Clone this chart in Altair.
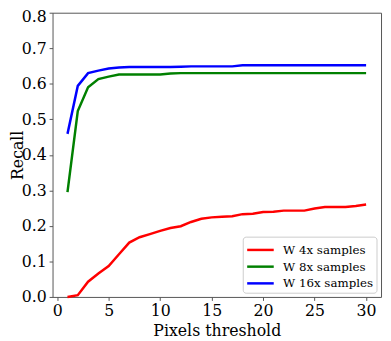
import altair as alt
import pandas as pd

thresholds = list(range(1, 31))
series_names = ["W 4x samples", "W 8x samples", "W 16x samples"]
series_colors = ["#ff0000", "#008000", "#0000ff"]

recall_4x = [0.000, 0.005, 0.043, 0.066, 0.087, 0.120, 0.153, 0.168, 0.177, 0.186,
             0.194, 0.199, 0.211, 0.220, 0.224, 0.226, 0.227, 0.233, 0.234, 0.239,
             0.240, 0.243, 0.243, 0.243, 0.249, 0.253, 0.253, 0.253, 0.256, 0.260]
recall_8x = [0.295, 0.523, 0.590, 0.613, 0.620, 0.626, 0.626, 0.626, 0.626, 0.626,
             0.629, 0.630, 0.630, 0.630, 0.630, 0.630, 0.630, 0.630, 0.630, 0.630,
             0.630, 0.630, 0.630, 0.630, 0.630, 0.630, 0.630, 0.630, 0.630, 0.630]
recall_16x = [0.459, 0.594, 0.630, 0.637, 0.643, 0.646, 0.647, 0.647, 0.647, 0.647,
              0.647, 0.648, 0.649, 0.649, 0.649, 0.649, 0.649, 0.652, 0.652, 0.652,
              0.652, 0.652, 0.652, 0.652, 0.652, 0.652, 0.652, 0.652, 0.652, 0.652]

x_ticks = [0, 5, 10, 15, 20, 25, 30]
y_ticks = [0.0, 0.1, 0.2, 0.3, 0.4, 0.5, 0.6, 0.7, 0.8]

rows = []
for name, vals in zip(series_names, [recall_4x, recall_8x, recall_16x]):
    for t, v in zip(thresholds, vals):
        rows.append({"series": name, "threshold": t, "recall": v})
df = pd.DataFrame(rows)

FONT = "DejaVu Serif"
FRAME = "#555555"

chart = alt.Chart(df).mark_line(strokeWidth=2.5).encode(
    x=alt.X("threshold:Q",
            scale=alt.Scale(domain=[-0.45, 31.45], nice=False, zero=False),
            axis=alt.Axis(values=x_ticks, format="d", title="Pixels threshold",
                          grid=False, domain=False, tickColor=FRAME, tickSize=3.5,
                          labelFont=FONT, labelFontSize=16, labelColor="black",
                          labelBaseline="alphabetic", labelPadding=15.5,
                          titleFont=FONT, titleFontSize=16, titleFontWeight="normal",
                          titleColor="black", titleBaseline="alphabetic", titleY=39)),
    y=alt.Y("recall:Q",
            scale=alt.Scale(domain=[0, 0.8], nice=False),
            axis=alt.Axis(values=y_ticks, format=".1f", title="Recall",
                          grid=False, domain=False, tickColor=FRAME, tickSize=3.5,
                          labelFont=FONT, labelFontSize=16, labelColor="black",
                          labelPadding=3,
                          labelOffset={"condition": {"test": "datum.value >= 0.79", "value": 4},
                                       "value": 0},
                          titleFont=FONT, titleFontSize=16, titleFontWeight="normal",
                          titleColor="black", titleBaseline="alphabetic", titleX=-30.3)),
    color=alt.Color("series:N",
                    scale=alt.Scale(domain=series_names, range=series_colors),
                    sort=series_names,
                    legend=alt.Legend(title=None, orient="none", legendX=193.4, legendY=227.7,
                                      labelFont=FONT, labelFontSize=12, labelColor="black",
                                      symbolType="M-1,0H2", symbolSize=324,
                                      symbolStrokeWidth=2.5, labelOffset=17,
                                      rowPadding=0, padding=3,
                                      strokeColor="#cccccc", fillColor="white",
                                      cornerRadius=3)),
    order=alt.Order("threshold:Q"),
).properties(
    width=334, height=289,
    autosize=alt.AutoSizeParams(type="none"),
    padding={"left": 45.3, "top": 2, "right": 2, "bottom": 42},
).configure_view(
    stroke=FRAME, strokeWidth=1
)

chart.save("out.html", embed_options={"renderer": "svg", "actions": False})
